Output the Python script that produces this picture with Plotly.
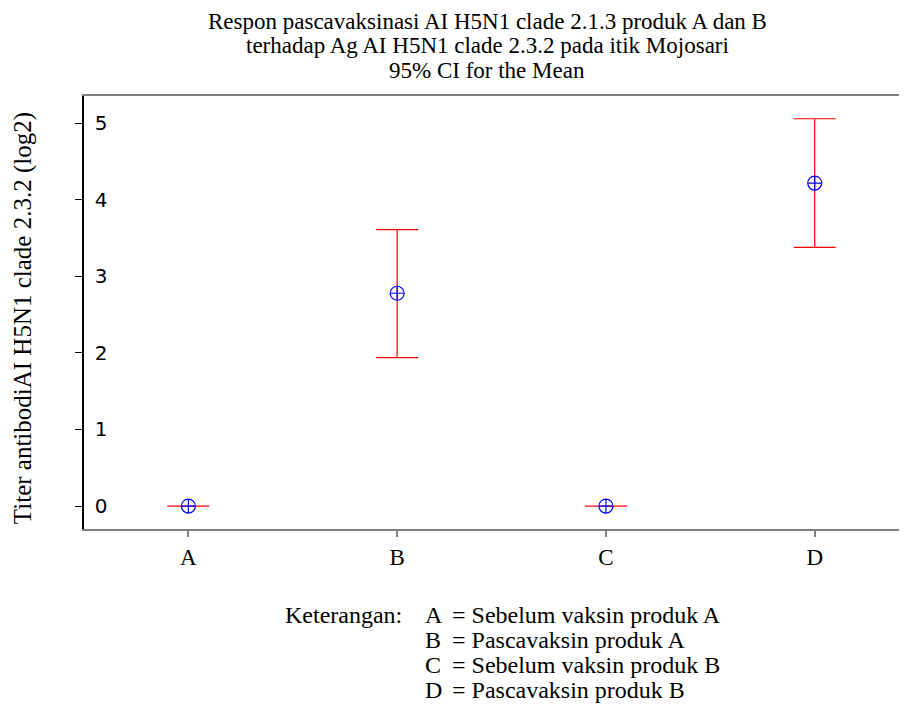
import plotly.graph_objects as go

groups = ["A", "B", "C", "D"]
means = [0.0, 2.78, 0.0, 4.22]
upper = [0.0, 3.61, 0.0, 5.06]
lower = [0.0, 1.94, 0.0, 3.38]
yticks = [0, 1, 2, 3, 4, 5]
legend_keys = ["A", "B", "C", "D"]
legend_desc = ["= Sebelum vaksin produk A", "= Pascavaksin produk A",
               "= Sebelum vaksin produk B", "= Pascavaksin produk B"]
title_lines = ["Respon pascavaksinasi AI H5N1 clade 2.1.3 produk A dan B",
               "terhadap Ag AI H5N1 clade 2.3.2 pada itik Mojosari",
               "95% CI for the Mean"]
ytitle = "Titer antibodiAI H5N1 clade 2.3.2 (log2)"

xpos = list(range(len(groups)))
err_plus = [u - m for u, m in zip(upper, means)]
err_minus = [m - l for m, l in zip(means, lower)]

fig = go.Figure()
fig.add_trace(go.Scatter(
    x=xpos, y=means, mode="markers",
    marker=dict(symbol="circle-cross-open", size=14, color="#0000ff",
                line=dict(width=1.2, color="#0000ff")),
    error_y=dict(type="data", symmetric=False, array=err_plus, arrayminus=err_minus,
                 color="#ff0000", thickness=1.2, width=21),
    showlegend=False, hoverinfo="skip"))

serif = "Liberation Serif, Times New Roman, serif"

# page body has an 8px margin, so figure is shrunk by 8 px
fig.update_layout(
    width=899, height=702,
    margin=dict(l=76, r=0, t=88, b=181),
    paper_bgcolor="white", plot_bgcolor="white",
    xaxis=dict(range=[-0.5, 3.442], tickvals=xpos, ticktext=groups,
               showline=True, linecolor="#808080", linewidth=2, mirror=True,
               ticks="outside", ticklen=6, tickcolor="#808080", tickwidth=1.5,
               showgrid=False, zeroline=False, automargin=False,
               tickfont=dict(family=serif, size=23, color="black")),
    yaxis=dict(range=[-0.30, 5.357], tickvals=yticks,
               showline=True, linecolor="black", linewidth=1.5,
               ticks="outside", ticklen=7, tickcolor="black", tickwidth=1,
               ticklabelposition="inside", ticklabelstandoff=12,
               showgrid=False, zeroline=False, automargin=False,
               tickfont=dict(family="DejaVu Sans, sans-serif", size=20, color="black")),
)

def px(xpx):
    return (xpx - 84) / 823

def py(ypx):
    return (529 - ypx) / 433.3

for i, t in enumerate(title_lines):
    fig.add_annotation(text=t, xref="paper", yref="paper", x=px(487), y=py(21 + 24.5 * i),
                       yanchor="middle", xanchor="center", showarrow=False,
                       font=dict(family=serif, size=23, color="black"))

fig.add_annotation(text=ytitle, xref="paper", yref="paper",
                   x=px(23), y=py(318), textangle=-90,
                   xanchor="center", yanchor="middle", showarrow=False,
                   font=dict(family=serif, size=25, color="black"))

fig.add_annotation(text="Keterangan:", xref="paper", yref="paper", x=px(283), y=py(615),
                   xanchor="left", yanchor="middle", showarrow=False,
                   font=dict(family=serif, size=24, color="black"))
for i, (k, d) in enumerate(zip(legend_keys, legend_desc)):
    fig.add_annotation(text=k, xref="paper", yref="paper", x=px(423), y=py(615 + 25 * i),
                       xanchor="left", yanchor="middle", showarrow=False,
                       font=dict(family=serif, size=24, color="black"))
    fig.add_annotation(text=d, xref="paper", yref="paper", x=px(450), y=py(615 + 25 * i),
                       xanchor="left", yanchor="middle", showarrow=False,
                       font=dict(family=serif, size=24, color="black"))

fig.write_html("out.html")
